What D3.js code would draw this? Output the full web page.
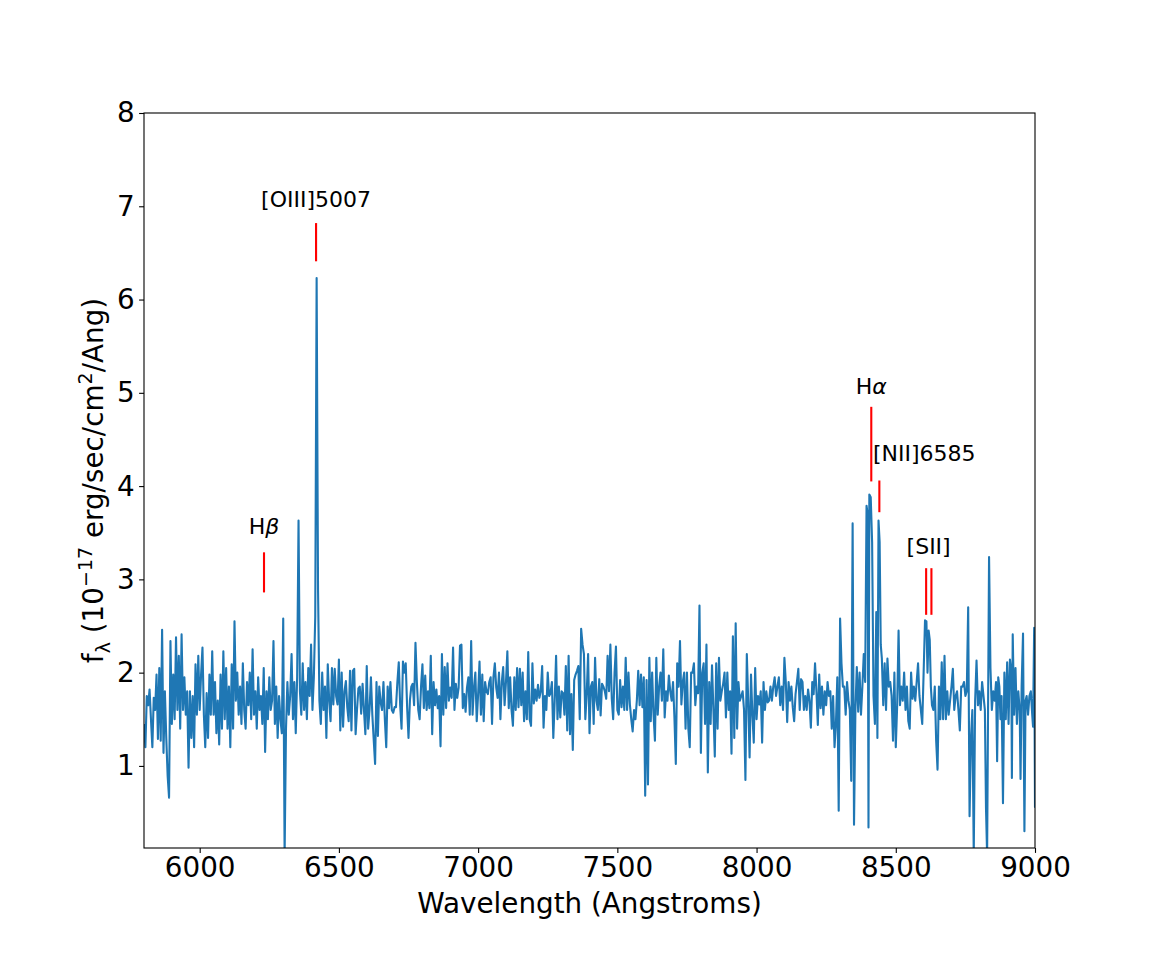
<!DOCTYPE html>
<html>
<head>
<meta charset="utf-8">
<script src="https://cdn.jsdelivr.net/npm/d3@7"></script>
<style>
  body { margin: 0; background: #fff; }
  text { font-family: "DejaVu Sans", sans-serif; fill: #000; }
</style>
</head>
<body>
<div id="chart"></div>
<script>
// ---------- DATA ----------
// [wavelength (A), flux (1e-17 erg/s/cm2/A)]
const spectrum = [
  [5800,1.45],[5805,1.2],[5810,1.75],[5815,1.65],[5820,1.82],[5825,1.5],[5830,1.2],[5835,1.73],[5840,1.6],[5845,1.98],
  [5850,1.29],[5855,2.05],[5860,1.27],[5865,2.46],[5870,1.14],[5875,1.8],[5880,1.3],[5885,0.89],[5890,0.66],[5895,2.34],
  [5900,1.45],[5905,1.98],[5910,1.5],[5915,2.38],[5920,1.6],[5925,2.18],[5930,1.4],[5935,2.41],[5940,1.6],[5945,1.95],
  [5950,1.55],[5955,1.8],[5960,0.98],[5965,1.8],[5970,1.3],[5975,1.75],[5980,1.2],[5985,2.09],[5990,1.55],[5995,2.18],
  [6000,1.6],[6005,1.98],[6010,2.27],[6015,1.55],[6020,1.2],[6025,1.78],[6030,1.3],[6035,1.98],[6040,1.55],[6045,2.23],
  [6050,1.55],[6055,1.9],[6060,1.35],[6065,1.7],[6070,1.23],[6075,1.98],[6080,1.4],[6085,2.23],[6090,1.5],[6095,2.05],
  [6100,1.4],[6105,1.85],[6110,1.2],[6115,2.09],[6120,1.4],[6125,2.55],
  [6130,1.7],[6135,2.0],[6140,1.55],[6145,1.85],[6150,1.45],[6155,2.1],[6160,1.6],[6165,1.4],[6170,1.9],[6175,1.65],
  [6180,2.0],[6185,1.5],[6190,2.25],[6195,1.55],[6200,1.8],[6205,1.4],[6210,1.95],[6215,1.6],[6220,1.75],[6225,1.45],
  [6230,2.05],[6235,1.15],[6240,1.8],[6245,1.5],[6250,1.95],[6255,1.6],[6260,1.7],[6265,2.34],[6270,1.45],[6275,1.85],
  [6280,1.3],[6285,1.75],[6290,1.5],[6295,1.35],[6300,2.58],[6305,0.05],[6310,1.4],[6315,1.9],[6320,1.55],[6325,1.75],
  [6330,2.2],[6335,1.5],[6340,1.9],[6345,1.35],[6350,1.95],[6355,3.63],[6360,1.8],[6365,1.55],[6370,2.1],[6375,1.6],
  [6380,1.9],[6385,1.5],[6390,2.05],[6395,1.75],[6400,2.3],[6405,1.6],[6410,1.95],[6415,2.6],[6420,6.23],[6425,2.9],
  [6430,1.7],[6435,1.45],[6440,2.0],[6445,1.6],[6450,1.85],
  [6455,1.3],[6460,2.09],[6465,1.7],[6470,1.48],[6475,2.05],[6480,1.66],[6485,2.04],[6490,1.75],[6495,1.66],[6500,2.14],
  [6505,1.38],[6510,2.0],[6515,1.42],[6520,1.8],[6525,1.91],[6530,1.63],[6535,1.48],[6540,2.02],[6545,1.38],[6550,2.02],
  [6555,2.04],[6560,1.34],[6565,1.6],[6570,1.83],[6575,1.85],[6580,1.56],[6585,1.88],[6590,1.6],[6595,1.34],[6600,2.07],
  [6605,1.4],[6610,1.6],[6615,1.95],[6620,1.55],[6625,1.28],[6630,1.02],[6635,1.9],[6640,1.32],[6645,1.85],[6650,1.68],
  [6655,1.6],[6660,1.9],[6665,1.5],[6670,1.2],[6675,1.85],[6680,1.62],[6685,1.9],[6690,1.6],[6695,1.57],[6700,1.63],
  [6705,1.63],[6710,1.9],[6715,2.11],[6720,1.65],[6725,1.4],[6730,2.12],[6735,2.0],[6740,2.1],[6745,1.63],[6750,1.3],
  [6755,1.7],[6760,1.85],[6765,1.88],[6770,1.65],
  [6775,2.32],[6780,1.9],[6785,1.6],[6790,1.5],[6795,1.85],[6800,2.09],[6805,1.62],[6810,1.97],[6815,1.6],[6820,1.8],
  [6825,1.62],[6830,2.18],[6835,1.34],[6840,1.9],[6845,1.65],[6850,1.82],[6855,1.62],[6860,1.75],[6865,1.21],[6870,2.2],
  [6875,1.55],[6880,2.06],[6885,1.62],[6890,2.1],[6895,1.7],[6900,1.84],[6905,1.73],[6910,2.27],[6915,1.6],[6920,1.88],
  [6925,1.73],[6930,1.84],[6935,2.29],[6940,2.3],[6945,1.62],[6950,1.77],[6955,1.58],[6960,1.84],[6965,1.95],[6970,1.55],
  [6975,2.34],[6980,1.55],[6985,1.84],[6990,2.0],[6995,1.48],[7000,1.77],[7005,2.12],[7010,1.55],[7015,1.98],[7020,1.48],
  [7025,1.9],[7030,1.8],[7035,1.77],[7040,1.9],[7045,1.95],[7050,1.45],[7055,1.95],[7060,2.1],[7065,1.84],[7070,1.73],
  [7075,2.0],[7080,1.5],[7085,1.9],[7090,2.06],[7095,1.65],
  [7100,1.9],[7105,2.23],[7110,1.62],[7115,1.95],[7120,1.6],[7125,1.43],[7130,1.95],[7135,1.6],[7140,2.05],[7145,1.63],
  [7150,2.04],[7155,1.65],[7160,2.0],[7165,1.48],[7170,1.8],[7175,1.5],[7180,2.22],[7185,1.5],[7190,1.43],[7195,2.1],
  [7200,1.67],[7205,1.82],[7210,1.7],[7215,1.87],[7220,1.73],[7225,1.8],[7230,2.07],[7235,1.41],[7240,1.75],[7245,1.6],
  [7250,2.0],[7255,1.75],[7260,1.78],[7265,1.9],[7270,1.3],[7275,1.7],[7280,2.18],[7285,1.5],[7290,1.85],[7295,1.52],
  [7300,1.8],[7305,1.78],[7310,1.55],[7315,2.07],[7320,1.38],[7325,2.18],[7330,1.34],[7335,1.77],[7340,1.17],[7345,1.92],
  [7350,1.98],[7355,2.02],[7360,2.07],[7365,1.5],[7370,2.47],[7375,2.3],[7380,2.2],[7385,1.5],[7390,1.77],[7395,2.2],
  [7400,1.35],[7405,1.85],[7410,1.9],[7415,1.45],
  [7420,2.16],[7425,1.7],[7430,1.6],[7435,1.93],[7440,1.54],[7445,1.88],[7450,1.85],[7455,1.8],[7460,1.72],[7465,2.18],
  [7470,1.8],[7475,2.3],[7480,1.72],[7485,1.5],[7490,2.0],[7495,2.28],[7500,1.6],[7505,1.55],[7510,1.92],[7515,1.63],
  [7520,1.85],[7525,1.6],[7530,2.16],[7535,1.6],[7540,2.0],[7545,1.66],[7550,1.5],[7555,1.37],[7560,1.6],[7565,1.5],
  [7570,1.7],[7575,2.02],[7580,1.65],[7585,1.98],[7590,1.63],[7595,1.95],[7600,0.68],[7605,1.92],[7610,0.8],[7615,2.16],
  [7620,1.48],[7625,2.0],[7630,1.55],[7635,1.27],[7640,2.16],[7645,1.55],[7650,1.85],[7655,2.0],[7660,1.7],[7665,2.25],
  [7670,1.52],[7675,1.8],[7680,1.7],[7685,1.97],[7690,1.8],[7695,1.7],[7700,1.9],[7705,1.52],[7710,1.02],[7715,2.1],
  [7720,1.85],[7725,2.34],[7730,1.66],[7735,1.9],[7740,2.0],
  [7745,1.4],[7750,2.0],[7755,1.4],[7760,1.2],[7765,2.0],[7770,2.0],[7775,2.1],[7780,1.65],[7785,1.85],[7790,1.78],
  [7795,2.72],[7800,1.14],[7805,2.0],[7810,2.1],[7815,1.45],[7820,2.3],[7825,0.93],[7830,1.9],[7835,1.45],[7840,2.08],
  [7845,1.6],[7850,1.1],[7855,2.1],[7860,1.4],[7865,2.16],[7870,1.7],[7875,1.8],[7880,1.88],[7885,2.0],[7890,1.52],
  [7895,2.0],[7900,1.6],[7905,1.8],[7910,1.13],[7915,2.39],[7920,1.3],[7925,2.53],[7930,1.4],[7935,1.9],[7940,1.7],
  [7945,1.75],[7950,1.8],[7955,1.6],[7960,0.85],[7965,2.2],[7970,1.7],[7975,1.09],[7980,1.98],[7985,1.55],[7990,1.25],
  [7995,2.05],[8000,1.5],[8005,1.75],[8010,1.66],[8015,1.8],[8020,1.25],[8025,1.9],[8030,1.6],[8035,1.8],[8040,1.68],
  [8045,1.7],[8050,1.85],[8055,1.7],[8060,1.85],
  [8065,1.95],[8070,1.75],[8075,1.85],[8080,1.95],[8085,1.65],[8090,1.85],[8095,1.6],[8100,2.16],[8105,1.9],[8110,1.47],
  [8115,1.9],[8120,1.7],[8125,1.85],[8130,1.63],[8135,1.48],[8140,1.77],[8145,1.9],[8150,2.04],[8155,1.6],[8160,1.93],
  [8165,1.9],[8170,1.6],[8175,1.75],[8180,1.6],[8185,1.82],[8190,1.7],[8195,1.41],[8200,1.9],[8205,1.77],[8210,2.1],
  [8215,1.8],[8220,1.44],[8225,1.98],[8230,1.62],[8235,1.85],[8240,1.55],[8245,1.8],[8250,1.65],[8255,1.9],[8260,1.75],
  [8265,1.8],[8270,1.4],[8275,1.75],[8280,1.2],[8285,1.45],[8290,1.95],[8295,0.52],[8300,2.58],[8305,2.1],[8310,1.85],
  [8315,1.85],[8320,1.55],[8325,1.9],[8330,1.7],[8335,1.6],[8340,0.84],[8345,3.6],[8350,0.37],[8355,1.6],[8360,2.06],
  [8365,1.58],[8370,2.0],[8375,1.55],[8380,1.85],[8385,2.2],
  [8390,1.9],[8395,3.79],[8399,3.7],[8402,0.34],[8405,3.91],[8410,3.88],[8415,3.4],[8420,1.75],[8425,1.45],[8430,2.65],
  [8434,1.3],[8438,3.63],[8442,3.4],[8446,2.3],[8450,2.15],[8455,1.65],[8460,2.1],[8465,1.6],[8470,2.15],[8475,1.85],
  [8480,1.9],[8485,1.75],[8490,1.27],[8495,2.0],[8500,1.2],[8505,1.65],[8510,2.45],[8515,1.65],[8520,1.85],[8525,1.7],
  [8530,2.0],[8535,1.6],[8540,1.85],[8545,1.48],[8550,1.4],[8555,2.0],[8560,1.72],[8565,1.85],[8570,1.7],[8575,1.9],
  [8580,2.1],[8585,1.75],[8590,1.6],[8595,1.45],[8600,2.0],[8605,2.56],[8610,2.55],[8614,2.0],[8618,2.45],[8622,2.35],
  [8626,1.85],[8630,1.65],[8635,1.6],[8640,1.85],[8645,1.27],[8650,0.96],
  [8655,1.85],[8660,1.5],[8665,2.11],[8670,1.5],[8675,2.18],[8680,1.5],[8685,1.8],[8690,1.55],[8695,1.7],[8700,1.85],
  [8705,2.04],[8710,1.6],[8715,1.75],[8720,1.8],[8725,1.6],[8730,1.38],[8735,1.85],[8740,1.85],[8745,1.9],[8750,1.75],
  [8755,1.8],[8760,2.7],[8765,0.46],[8770,1.3],[8775,1.6],[8780,0.05],[8785,1.7],[8790,2.13],[8795,1.65],[8800,1.8],
  [8805,1.6],[8810,1.9],[8815,1.75],[8820,1.6],[8824,0.55],[8828,0.05],[8835,3.24],[8840,2.05],[8845,1.6],[8850,1.8],
  [8855,1.7],[8860,1.9],[8864,1.05],[8868,1.95],[8872,1.85],[8876,1.5],[8880,1.75],[8885,0.6],[8890,2.0],[8895,1.5],
  [8900,2.11],[8905,1.45],[8910,2.14],[8915,2.0],[8917,0.87],[8920,2.41],[8925,1.55],[8930,2.05],[8935,1.45],[8940,1.8],
  [8945,1.6],[8948,0.86],[8952,1.85],[8957,2.42],[8962,0.3],[8966,1.7],[8970,1.75],[8975,1.55],[8980,1.75],[8985,1.8],
  [8990,1.55],[8993,1.42],[8997,2.48],[9000,0.56],[9003,2.4]
];

// emission line markers (red ticks) and their labels
const markerWave = [6231, 6418, 8412, 8441, 8609, 8628];
const markerLow  = [2.86, 6.41, 4.05, 3.72, 2.62, 2.62];
const markerHigh = [3.29, 6.82, 4.85, 4.06, 3.12, 3.12];

const labelText = ["H|\u03b2", "[OIII]5007", "H|\u03b1", "[NII]6585", "[SII]"];
const labelWave = [6231, 6418, 8412, 8418, 8618];
const labelFlux = [3.49, 6.99, 4.99, 4.27, 3.27];

const xTicks = [6000, 6500, 7000, 7500, 8000, 8500, 9000];
const yTicks = [1, 2, 3, 4, 5, 6, 7, 8];

// ---------- CHART ----------
const size = { w: 1150, h: 953 };
const margin = { top: 113, right: 115, bottom: 105, left: 144 };

const svg = d3.select("#chart").append("svg")
	.attr("width", size.w)
	.attr("height", size.h);

const x = d3.scaleLinear()
	.domain([5800, 9000])
	.range([margin.left, size.w - margin.right]);
const y = d3.scaleLinear()
	.domain([0.12, 8])
	.range([size.h - margin.bottom, margin.top]);

svg.append("clipPath").attr("id", "plot-clip")
	.append("rect")
	.attr("x", margin.left).attr("y", margin.top)
	.attr("width", size.w - margin.left - margin.right)
	.attr("height", size.h - margin.top - margin.bottom);

const line = d3.line().x(d => x(d[0])).y(d => y(d[1]));

svg.append("path")
	.datum(spectrum)
	.attr("clip-path", "url(#plot-clip)")
	.attr("fill", "none")
	.attr("stroke", "#1f77b4")
	.attr("stroke-width", 2.1)
	.attr("stroke-linejoin", "round")
	.attr("d", line);

// red markers
svg.append("g").selectAll("line")
	.data(markerWave)
	.enter().append("line")
	.attr("x1", d => x(d)).attr("x2", d => x(d))
	.attr("y1", (d, i) => y(markerLow[i]))
	.attr("y2", (d, i) => y(markerHigh[i]))
	.attr("stroke", "red")
	.attr("stroke-width", 2.1);

// labels; "|" splits plain part from the italic greek letter
const labels = svg.append("g").selectAll("text")
	.data(labelText)
	.enter().append("text")
	.attr("x", (d, i) => x(labelWave[i]))
	.attr("y", (d, i) => y(labelFlux[i]))
	.attr("text-anchor", (d, i) => (i === 3 ? "start" : "middle"))
	.style("font-size", "22px");
labels.each(function (d) {
	const parts = d.split("|");
	const t = d3.select(this);
	t.append("tspan").text(parts[0]);
	if (parts[1]) t.append("tspan").style("font-style", "italic").text(parts[1]);
});

// axes
const xAxis = svg.append("g")
	.attr("transform", `translate(0, ${size.h - margin.bottom})`)
	.call(d3.axisBottom(x).tickValues(xTicks).tickSize(4.9).tickPadding(4.5).tickFormat(d3.format("d")));
const yAxis = svg.append("g")
	.attr("transform", `translate(${margin.left}, 0)`)
	.call(d3.axisLeft(y).tickValues(yTicks).tickSize(4.9).tickPadding(4.5).tickFormat(d3.format("d")));

[xAxis, yAxis].forEach(a => {
	a.select(".domain").remove();
	a.selectAll(".tick line").attr("stroke", "#000").attr("stroke-width", 1.1);
	a.selectAll(".tick text").style("font-size", "27.8px").style("font-family", "DejaVu Sans");
});

// frame
svg.append("rect")
	.attr("x", margin.left).attr("y", margin.top)
	.attr("width", size.w - margin.left - margin.right)
	.attr("height", size.h - margin.top - margin.bottom)
	.attr("fill", "none")
	.attr("stroke", "#000")
	.attr("stroke-width", 1.1);

// axis titles
svg.append("text")
	.attr("x", (margin.left + size.w - margin.right) / 2)
	.attr("y", 913)
	.attr("text-anchor", "middle")
	.style("font-size", "27.8px")
	.text("Wavelength (Angstroms)");

const yl = svg.append("text")
	.attr("transform", `translate(103, ${(margin.top + size.h - margin.bottom) / 2}) rotate(-90)`)
	.attr("text-anchor", "middle")
	.style("font-size", "27.8px");
yl.append("tspan").text("f");
yl.append("tspan").attr("dy", 7).style("font-size", "19px").text("\u03bb");
yl.append("tspan").attr("dy", -7).text(" (10");
yl.append("tspan").attr("dy", -11).style("font-size", "19px").text("\u221217");
yl.append("tspan").attr("dy", 11).text(" erg/sec/cm");
yl.append("tspan").attr("dy", -11).style("font-size", "19px").text("2");
yl.append("tspan").attr("dy", 11).text("/Ang)");
</script>
</body>
</html>
